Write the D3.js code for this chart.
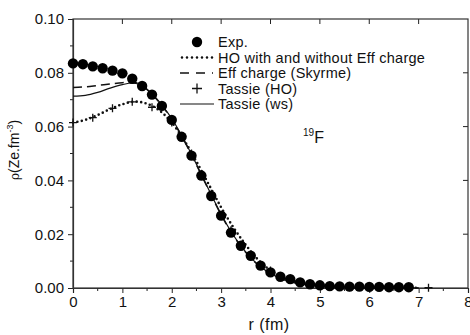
<!DOCTYPE html>
<html>
<head>
<meta charset="utf-8">
<script src="https://cdn.jsdelivr.net/npm/d3@7"></script>
<style>
body { margin: 0; background: #fff; }
text { font-family: "Liberation Sans", Arial, sans-serif; fill: #111; }
</style>
</head>
<body>
<div id="chart"></div>
<script>
// experimental points
var expR = [0, 0.2, 0.4, 0.6, 0.8, 1.0, 1.2, 1.4, 1.6, 1.8, 2.0, 2.2, 2.4, 2.6, 2.8, 3.0, 3.2, 3.4, 3.6, 3.8,
    4.0, 4.2, 4.4, 4.6, 4.8, 5.0, 5.2, 5.4, 5.6, 5.8, 6.0, 6.2, 6.4, 6.6, 6.8];
var expRho = [0.0835, 0.0832, 0.0824, 0.0817, 0.0808, 0.0798, 0.0778, 0.0751, 0.0719, 0.0677, 0.0625, 0.0562,
    0.0492, 0.0418, 0.0342, 0.0269, 0.0206, 0.0157, 0.0120, 0.0083, 0.0058, 0.0042, 0.0033, 0.0021, 0.0014,
    0.0010, 0.0007, 0.0006, 0.0005, 0.0005, 0.0004, 0.0004, 0.0003, 0.0003, 0.0003];

// HO with and without Eff charge (dotted)
var hoR = [0, 0.25, 0.5, 0.75, 1.0, 1.25, 1.5, 1.75, 2.0, 2.25, 2.5, 2.75, 3.0, 3.25, 3.5, 3.75, 4.0, 4.5, 5.0, 5.5, 6.0, 7.0];
var hoRho = [0.0615, 0.0625, 0.0643, 0.0665, 0.0683, 0.0693, 0.0685, 0.0660, 0.0615, 0.0550, 0.0470, 0.0385,
    0.0300, 0.0225, 0.0160, 0.0105, 0.0065, 0.0025, 0.0010, 0.0004, 0.0002, 0.0001];

// Eff charge (Skyrme) (dashed)
var effR = [0, 0.25, 0.5, 0.75, 1.0, 1.2, 1.4, 1.6, 1.8, 2.0, 2.2, 2.4, 2.6, 2.8, 3.0, 3.2, 3.4, 3.6, 3.8, 4.0, 4.4, 4.8, 5.2, 6.0, 7.0];
var effRho = [0.0745, 0.0748, 0.0753, 0.0758, 0.0763, 0.0766, 0.0752, 0.0720, 0.0678, 0.0627, 0.0565, 0.0495,
    0.0420, 0.0345, 0.0272, 0.0208, 0.0155, 0.0112, 0.0078, 0.0053, 0.0023, 0.0010, 0.0004, 0.0001, 0.0000];

// Tassie (HO) crosses
var tassieHoR = [0, 0.4, 0.8, 1.2, 1.6, 2.0, 2.4, 2.8, 3.2, 3.6, 4.0, 4.4, 4.8, 5.2, 5.6, 6.0, 6.4, 6.8, 7.2];
var tassieHoRho = [0.0615, 0.0633, 0.0668, 0.0692, 0.0672, 0.0615, 0.0500, 0.0350, 0.0215, 0.0118, 0.0065,
    0.0030, 0.0013, 0.0005, 0.0003, 0.0002, 0.0001, 0.0001, 0.0001];

// Tassie (ws) (solid)
var wsR = [0, 0.25, 0.5, 0.75, 1.0, 1.2, 1.4, 1.6, 1.8, 2.0, 2.2, 2.4, 2.6, 2.8, 3.0, 3.2, 3.4, 3.6, 3.8, 4.0, 4.4, 4.8, 5.2, 6.0, 7.0];
var wsRho = [0.0713, 0.0716, 0.0727, 0.0743, 0.0756, 0.0762, 0.0752, 0.0722, 0.0680, 0.0630, 0.0567, 0.0497,
    0.0422, 0.0347, 0.0274, 0.0210, 0.0157, 0.0113, 0.0079, 0.0054, 0.0024, 0.0010, 0.0004, 0.0001, 0.0000];

var legendLabels = ["Exp.", "HO with and without Eff charge", "Eff charge (Skyrme)", "Tassie (HO)", "Tassie (ws)"];
var xTicks = [0, 1, 2, 3, 4, 5, 6, 7, 8];
var yTicks = [0.00, 0.02, 0.04, 0.06, 0.08, 0.10];

var svgWidth = 470;
var svgHeight = 335;
var margin = { top: 19, right: 2, bottom: 47, left: 73 };
var width = svgWidth - margin.left - margin.right;
var height = svgHeight - margin.top - margin.bottom;

var svg = d3.select("#chart")
    .append("svg")
    .attr("width", svgWidth)
    .attr("height", svgHeight);

var chartGroup = svg.append("g")
    .attr("transform", `translate(${margin.left}, ${margin.top})`);

var x = d3.scaleLinear().domain([0, 8]).range([0, width]);
var y = d3.scaleLinear().domain([0, 0.1]).range([height, 0]);

function zip(a, b) { return a.map((v, i) => ({ r: v, rho: b[i] })); }

// axes
var bottomAxis = d3.axisBottom(x).tickValues(xTicks).tickFormat(d3.format("d")).tickSize(5).tickPadding(3);
var leftAxis = d3.axisLeft(y).tickValues(yTicks).tickFormat(d3.format(".2f")).tickSize(5).tickPadding(4);

var gx = chartGroup.append("g").attr("transform", `translate(0, ${height})`).call(bottomAxis);
var gy = chartGroup.append("g").call(leftAxis);
// minor ticks
gx.selectAll(".minor").data(d3.range(0.5, 8, 1)).enter().append("line")
    .attr("x1", d => x(d)).attr("x2", d => x(d)).attr("y1", 0).attr("y2", 3).attr("stroke", "#222");
gy.selectAll(".minor").data(d3.range(0.01, 0.1, 0.02)).enter().append("line")
    .attr("y1", d => y(d)).attr("y2", d => y(d)).attr("x1", 0).attr("x2", -3).attr("stroke", "#222");
// mirror ticks
chartGroup.append("g").selectAll("line").data(xTicks.slice(1, -1)).enter().append("line")
    .attr("x1", d => x(d)).attr("x2", d => x(d)).attr("y1", 0).attr("y2", 5).attr("stroke", "#222");
chartGroup.append("g").selectAll("line").data(yTicks.slice(1, -1)).enter().append("line")
    .attr("y1", d => y(d)).attr("y2", d => y(d)).attr("x1", width).attr("x2", width - 5).attr("stroke", "#222");
chartGroup.append("rect").attr("width", width).attr("height", height)
    .attr("fill", "none").attr("stroke", "#333").attr("stroke-width", 1.2);

[gx, gy].forEach(g => {
    g.select(".domain").attr("stroke", "#333").attr("stroke-width", 1.2);
    g.selectAll(".tick line").attr("stroke", "#222");
    g.selectAll(".tick text").style("font-size", "15px").attr("fill", "#222");
});

// curves
var line = d3.line().x(d => x(d.r)).y(d => y(d.rho)).curve(d3.curveMonotoneX);

chartGroup.append("path").datum(zip(wsR, wsRho)).attr("d", line)
    .attr("fill", "none").attr("stroke", "#111").attr("stroke-width", 1.2);
chartGroup.append("path").datum(zip(effR, effRho)).attr("d", line)
    .attr("fill", "none").attr("stroke", "#111").attr("stroke-width", 1.5).attr("stroke-dasharray", "9,5");
chartGroup.append("path").datum(zip(hoR, hoRho)).attr("d", line)
    .attr("fill", "none").attr("stroke", "#111").attr("stroke-width", 2.6)
    .attr("stroke-dasharray", "0,4.5").attr("stroke-linecap", "round");

// crosses
chartGroup.append("g").selectAll("path").data(zip(tassieHoR, tassieHoRho)).enter().append("path")
    .attr("d", "M-4,0H4M0,-4V4")
    .attr("transform", d => `translate(${x(d.r)}, ${y(d.rho)})`)
    .attr("stroke", "#111").attr("stroke-width", 1.3);

// exp circles
chartGroup.append("g").selectAll("circle").data(zip(expR, expRho)).enter().append("circle")
    .attr("cx", d => x(d.r)).attr("cy", d => y(d.rho)).attr("r", 5.2).attr("fill", "#000");

// legend
var legend = svg.append("g").attr("transform", "translate(180, 42)");
var rowH = 15.5;
legendLabels.forEach((lab, i) => {
    var gy0 = i * rowH;
    var row = legend.append("g").attr("transform", `translate(0, ${gy0})`);
    if (i === 0) row.append("circle").attr("cx", 17).attr("cy", 0).attr("r", 5.2).attr("fill", "#000");
    if (i === 1) row.append("line").attr("x1", 2).attr("x2", 33).attr("stroke", "#111").attr("stroke-width", 2.6)
        .attr("stroke-dasharray", "0,5").attr("stroke-linecap", "round");
    if (i === 2) row.append("line").attr("x1", 0).attr("x2", 33).attr("stroke", "#111").attr("stroke-width", 1.5)
        .attr("stroke-dasharray", "9,7");
    if (i === 3) row.append("path").attr("d", "M12,0H22M17,-5V5").attr("stroke", "#111").attr("stroke-width", 1.3);
    if (i === 4) row.append("line").attr("x1", 0).attr("x2", 34).attr("stroke", "#111").attr("stroke-width", 1.2);
    row.append("text").attr("x", 38).attr("y", 5)
        .style("font-size", "14.5px").style("letter-spacing", "0.25px").text(lab);
});

// nucleus label
var nuc = svg.append("text").attr("x", 303).attr("y", 143);
nuc.append("tspan").style("font-size", "10px").attr("dy", -7).text("19");
nuc.append("tspan").style("font-size", "16px").attr("dy", 7).text("F");

// axis labels
svg.append("text")
    .attr("transform", "translate(19, 150) rotate(-90)")
    .attr("text-anchor", "middle")
    .style("font-size", "14px")
    .html('<tspan style="font-family: \'DejaVu Serif\', serif; font-size: 12px">ρ</tspan>(Ze.fm<tspan dy="-6" style="font-size:9px">-3</tspan><tspan dy="6">)</tspan>');
svg.append("text")
    .attr("x", 269).attr("y", 330)
    .attr("text-anchor", "middle")
    .style("font-size", "16px")
    .style("letter-spacing", "0.5px")
    .text("r (fm)");
</script>
</body>
</html>
